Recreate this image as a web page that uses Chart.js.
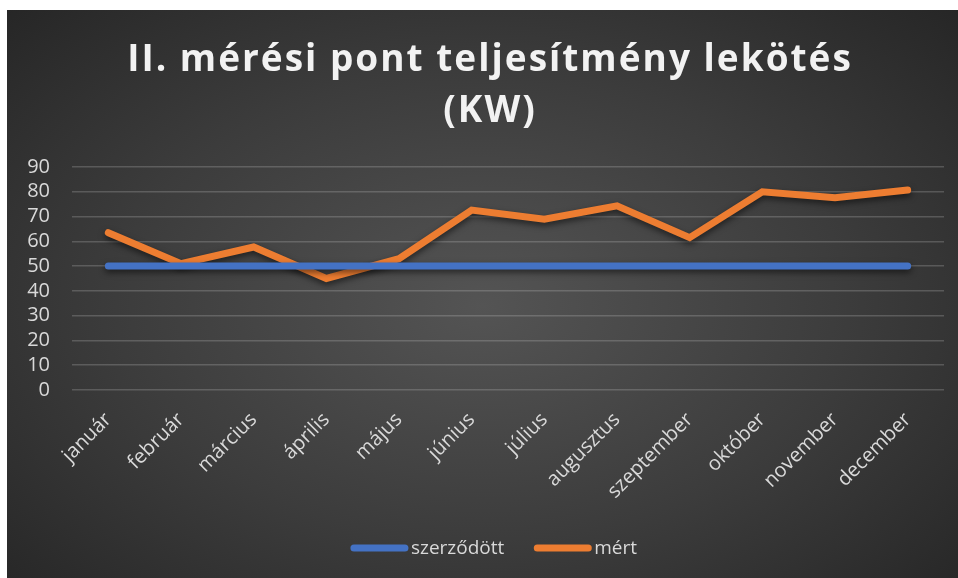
<!DOCTYPE html>
<html>
<head>
<meta charset="utf-8">
<script src="https://cdn.jsdelivr.net/npm/chart.js@4"></script>
<style>
  html, body { margin: 0; padding: 0; background: #fff; }
  #wrap {
    position: absolute; left: 7px; top: 10px; width: 951px; height: 568px;
    background: radial-gradient(ellipse 70% 75% at 50% 52%, #545454 0%, #3c3c3c 55%, #262626 100%);
  }
  canvas { display: block; }
</style>
</head>
<body>
<div id="wrap"><canvas id="chart" width="951" height="568"></canvas></div>
<script>
const months = ['január', 'február', 'március', 'április', 'május', 'június',
    'július', 'augusztus', 'szeptember', 'október', 'november', 'december'];
const szerzodott = [50, 50, 50, 50, 50, 50, 50, 50, 50, 50, 50, 50];
const mert = [63.5, 51, 57.7, 45, 53, 72.6, 68.9, 74.3, 61.5, 80, 77.6, 80.7];
const yTicks = [0, 10, 20, 30, 40, 50, 60, 70, 80, 90];
const titleLines = ['II. mérési pont teljesítmény lekötés', '(KW)'];

const textColor = '#d9d9d9';
const font = '"Open Sans", "DejaVu Sans", sans-serif';

// soft shadow under the lines
const lineShadow = {
    id: 'lineShadow',
    beforeDatasetDraw(chart) {
        const ctx = chart.ctx;
        ctx.save();
        ctx.shadowColor = 'rgba(0,0,0,0.55)';
        ctx.shadowBlur = 6;
        ctx.shadowOffsetY = 3;
    },
    afterDatasetDraw(chart) {
        chart.ctx.restore();
    }
};

// spaced-out title and Excel style legend
const decor = {
    id: 'decor',
    afterDraw(chart) {
        const ctx = chart.ctx;
        ctx.save();
        ctx.fillStyle = '#f2f2f2';
        ctx.textAlign = 'center';
        ctx.textBaseline = 'alphabetic';
        ctx.font = 'bold 37px ' + font;
        ctx.letterSpacing = '2px';
        ctx.fillText(titleLines[0], 483, 61);
        ctx.fillText(titleLines[1], 483, 112);

        ctx.letterSpacing = '0px';
        ctx.font = '19px ' + font;
        ctx.textAlign = 'left';
        ctx.textBaseline = 'middle';
        const items = chart.data.datasets.map(ds => ({
            label: ds.label, color: ds.borderColor, w: ctx.measureText(ds.label).width
        }));
        const lineW = 57, gap = 3, itemGap = 30;
        let total = items.reduce((s, it) => s + lineW + gap + it.w, 0) + itemGap * (items.length - 1);
        let x = 487 - total / 2;
        const y = 538;
        items.forEach(it => {
            ctx.strokeStyle = it.color;
            ctx.lineWidth = 7;
            ctx.lineCap = 'round';
            ctx.beginPath();
            ctx.moveTo(x + 3, y);
            ctx.lineTo(x + lineW - 3, y);
            ctx.stroke();
            ctx.fillStyle = textColor;
            ctx.fillText(it.label, x + lineW + gap, y + 1);
            x += lineW + gap + it.w + itemGap;
        });
        ctx.restore();
    }
};

new Chart(document.getElementById('chart'), {
    type: 'line',
    data: {
        labels: months,
        datasets: [{
            label: 'szerződött',
            data: szerzodott,
            borderColor: '#4472c4',
            backgroundColor: '#4472c4',
            borderWidth: 7,
            borderCapStyle: 'round',
            borderJoinStyle: 'miter',
            pointRadius: 0,
            tension: 0
        }, {
            label: 'mért',
            data: mert,
            borderColor: '#ed7d31',
            backgroundColor: '#ed7d31',
            borderWidth: 7,
            borderCapStyle: 'round',
            borderJoinStyle: 'miter',
            pointRadius: 0,
            tension: 0
        }]
    },
    options: {
        responsive: false,
        animation: false,
        layout: { padding: { top: 157, right: 14, bottom: 58, left: 7 } },
        plugins: {
            legend: { display: false },
            title: { display: false },
            tooltip: { enabled: false }
        },
        scales: {
            x: {
                offset: true,
                grid: { display: false },
                border: { display: false },
                ticks: {
                    color: textColor,
                    font: { family: font, size: 20 },
                    minRotation: 45,
                    maxRotation: 45,
                    autoSkip: false,
                    padding: 10
                },
                afterFit(scale) { scale.height = 130; }
            },
            y: {
                min: 0,
                max: 90,
                afterBuildTicks(scale) { scale.ticks = yTicks.map(v => ({ value: v })); },
                grid: { color: 'rgba(217,217,217,0.22)', lineWidth: 1.5, drawTicks: false },
                border: { display: false },
                ticks: {
                    color: textColor,
                    font: { family: font, size: 20 },
                    autoSkip: false,
                    padding: 22
                },
                afterFit(scale) { scale.width = 58; }
            }
        }
    },
    plugins: [lineShadow, decor]
});
</script>
</body>
</html>
